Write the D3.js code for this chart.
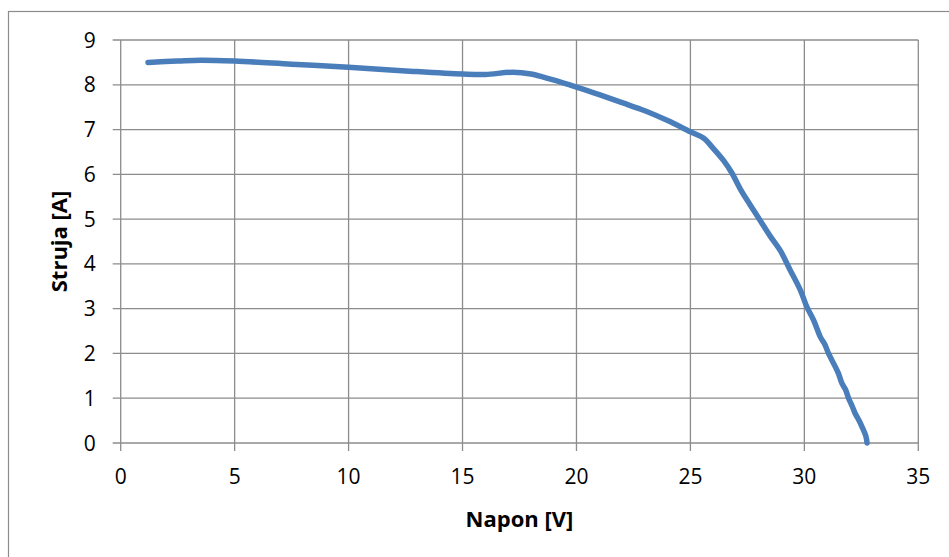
<!DOCTYPE html>
<html>
<head>
<meta charset="utf-8">
<script src="https://cdn.jsdelivr.net/npm/d3@7"></script>
<style>
  body { margin: 0; background: #fff; }
  text { font-family: "Open Sans", "Noto Sans", sans-serif; fill: #000; }
</style>
</head>
<body>
<div id="chart"></div>
<script>
  const voltage = [1.2, 2.5, 3.5, 5.0, 7.5, 10.0, 12.5, 15.0, 16.0, 17.2, 18.0, 18.9, 20.0, 21.0, 22.0, 23.0, 24.0, 25.0, 25.57, 26.0, 26.45, 26.82, 27.19, 27.63, 28.06, 28.5, 28.94, 29.38, 29.82, 30.11, 30.4, 30.7, 30.9, 31.06, 31.36, 31.5, 31.65, 31.8, 31.94, 32.1, 32.23, 32.4, 32.53, 32.7, 32.75];
  const current = [8.50, 8.53, 8.55, 8.53, 8.46, 8.39, 8.31, 8.24, 8.23, 8.28, 8.24, 8.12, 7.95, 7.78, 7.6, 7.42, 7.2, 6.95, 6.81, 6.58, 6.31, 6.03, 5.67, 5.31, 4.97, 4.62, 4.30, 3.86, 3.42, 3.04, 2.75, 2.37, 2.2, 2.0, 1.70, 1.55, 1.33, 1.2, 1.0, 0.82, 0.66, 0.5, 0.36, 0.15, 0];
  const xTicks = [0, 5, 10, 15, 20, 25, 30, 35];
  const yTicks = [0, 1, 2, 3, 4, 5, 6, 7, 8, 9];

  const width = 949;
  const height = 557;
  const gridColor = '#8c8c8c';

  const svg = d3.select('#chart')
                .append('svg')
                .attr('width', width)
                .attr('height', height);

  // outer chart frame (right and bottom fall outside the window)
  svg.append('rect')
     .attr('x', 8.5)
     .attr('y', 11.5)
     .attr('width', 980)
     .attr('height', 600)
     .attr('fill', 'none')
     .attr('stroke', gridColor)
     .attr('stroke-width', 1.2);

  const x = d3.scaleLinear().domain([0, 35]).range([120.7, 918.3]);
  const y = d3.scaleLinear().domain([0, 9]).range([443, 40]);

  // grid
  svg.append('g')
     .selectAll('line')
     .data(yTicks)
     .enter()
     .append('line')
     .attr('x1', x(0) - 8)
     .attr('x2', x(35))
     .attr('y1', (d) => y(d))
     .attr('y2', (d) => y(d))
     .attr('stroke', gridColor)
     .attr('stroke-width', 1.3);

  svg.append('g')
     .selectAll('line')
     .data(xTicks)
     .enter()
     .append('line')
     .attr('x1', (d) => x(d))
     .attr('x2', (d) => x(d))
     .attr('y1', y(9))
     .attr('y2', y(0) + 8)
     .attr('stroke', gridColor)
     .attr('stroke-width', 1.3);

  // tick labels
  svg.append('g')
     .selectAll('text')
     .data(yTicks)
     .enter()
     .append('text')
     .attr('x', x(0) - 25)
     .attr('y', (d) => y(d) + 7.5)
     .attr('text-anchor', 'end')
     .style('font-size', '21px')
     .text((d) => d);

  svg.append('g')
     .selectAll('text')
     .data(xTicks)
     .enter()
     .append('text')
     .attr('x', (d) => x(d))
     .attr('y', 484)
     .attr('text-anchor', 'middle')
     .style('font-size', '21px')
     .text((d) => d);

  // axis titles
  svg.append('text')
     .attr('x', (x(0) + x(35)) / 2)
     .attr('y', 527)
     .attr('text-anchor', 'middle')
     .style('font-size', '22px')
     .style('font-weight', 'bold')
     .text('Napon [V]');

  svg.append('text')
     .attr('transform', 'translate(67,' + ((y(0) + y(9)) / 2) + ') rotate(-90)')
     .attr('text-anchor', 'middle')
     .style('font-size', '22px')
     .style('font-weight', 'bold')
     .text('Struja [A]');

  // I-V curve
  const points = voltage.map((v, i) => [v, current[i]]);
  const line = d3.line()
                 .x((d) => x(d[0]))
                 .y((d) => y(d[1]))
                 .curve(d3.curveCatmullRom.alpha(0.5));

  svg.append('path')
     .datum(points)
     .attr('d', line)
     .attr('fill', 'none')
     .attr('stroke', '#4a7ebb')
     .attr('stroke-width', 5.5)
     .attr('stroke-linecap', 'round')
     .attr('stroke-linejoin', 'round');
</script>
</body>
</html>
